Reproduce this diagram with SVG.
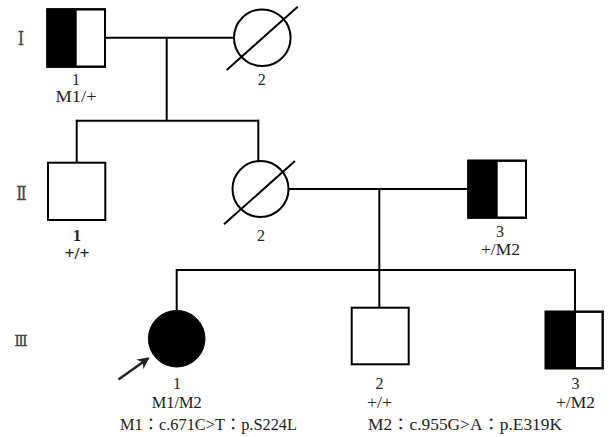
<svg xmlns="http://www.w3.org/2000/svg" width="611" height="437" viewBox="0 0 611 437">
<style>
.ln{stroke:#000;stroke-width:2;fill:none}
.sym{stroke:#000;stroke-width:2;fill:#fff}
.blk{fill:#000;stroke:none}
.t{font-family:"Liberation Serif","Noto Sans CJK JP",serif;font-size:16px;fill:#222;text-anchor:middle}
.g{font-family:"DejaVu Serif","Liberation Serif",serif;fill:#444;stroke:#444;stroke-width:0.4;text-anchor:middle}
</style>
<defs>
<marker id="ah" markerWidth="12" markerHeight="12" refX="10" refY="6" orient="auto" markerUnits="userSpaceOnUse" viewBox="0 0 12 12">
<path d="M0,0 L12,6 L0,12 L3.5,6 Z" fill="#222"/>
</marker>
</defs>
<rect width="611" height="437" fill="#fff"/>
<g id="generations">
<text class="g" x="21" y="45" font-size="19" textLength="6" lengthAdjust="spacingAndGlyphs">Ⅰ</text>
<text class="g" x="21.5" y="200" font-size="19" textLength="10" lengthAdjust="spacingAndGlyphs">Ⅱ</text>
<text class="g" x="21" y="346" font-size="15" textLength="13" lengthAdjust="spacingAndGlyphs">Ⅲ</text>
</g>
<g id="connectors">
<line class="ln" x1="105" y1="37.7" x2="234" y2="37.7"/>
<line class="ln" x1="166.7" y1="37.7" x2="166.7" y2="120.7"/>
<line class="ln" x1="76.7" y1="120.7" x2="258.3" y2="120.7"/>
<line class="ln" x1="76.7" y1="119.7" x2="76.7" y2="162.7"/>
<line class="ln" x1="258.3" y1="119.7" x2="258.3" y2="161"/>
<line class="ln" x1="288.5" y1="189" x2="468.3" y2="189"/>
<line class="ln" x1="379.3" y1="189" x2="379.3" y2="270"/>
<line class="ln" x1="176" y1="270" x2="575.5" y2="270"/>
<line class="ln" x1="176.7" y1="269" x2="176.7" y2="310.5"/>
<line class="ln" x1="379.3" y1="270" x2="379.3" y2="307.7"/>
<line class="ln" x1="575" y1="269" x2="575" y2="311.7"/>
<line stroke="#222" stroke-width="2.5" x1="118.5" y1="379.5" x2="148" y2="358.5" marker-end="url(#ah)"/>
</g>
<g id="I-1">
<rect class="sym" x="47.3" y="9.3" width="57.7" height="57.4"/>
<rect class="blk" x="47.3" y="9.3" width="29.4" height="57.4"/>
<rect class="ln" x="47.3" y="9.3" width="57.7" height="57.4"/>
<text class="t" x="76" y="85">1</text>
<text class="t" x="76" y="101.5" textLength="41" lengthAdjust="spacingAndGlyphs">M1/+</text>
</g>
<g id="I-2">
<circle class="sym" cx="262.3" cy="37.7" r="28.3"/>
<line class="ln" x1="226.7" y1="70" x2="297.7" y2="6.7"/>
<text class="t" x="261.7" y="85">2</text>
</g>
<g id="II-1">
<rect class="sym" x="48" y="162.7" width="57.3" height="57.3"/>
<text class="t" x="77" y="240.5" font-weight="bold">1</text>
<text class="t" x="77" y="259" font-weight="bold" textLength="25" lengthAdjust="spacingAndGlyphs">+/+</text>
</g>
<g id="II-2">
<circle class="sym" cx="260.5" cy="189" r="28"/>
<line class="ln" x1="224" y1="224.3" x2="295" y2="161"/>
<text class="t" x="261" y="240.5">2</text>
</g>
<g id="II-3">
<rect class="sym" x="468.3" y="160.7" width="57.7" height="57"/>
<rect class="blk" x="468.3" y="160.7" width="29.4" height="57"/>
<rect class="ln" x="468.3" y="160.7" width="57.7" height="57"/>
<text class="t" x="500" y="236.5">3</text>
<text class="t" x="500.5" y="255" textLength="39" lengthAdjust="spacingAndGlyphs">+/M2</text>
</g>
<g id="III-1">
<circle cx="176.7" cy="338.7" r="28.3" fill="#000" stroke="#000" stroke-width="1"/>
<text class="t" x="177" y="389">1</text>
<text class="t" x="176.7" y="408" textLength="50" lengthAdjust="spacingAndGlyphs">M1/M2</text>
<text class="t" x="208.5" y="430" textLength="177" lengthAdjust="spacingAndGlyphs">M1：c.671C&gt;T：p.S224L</text>
</g>
<g id="III-2">
<rect class="sym" x="351.7" y="307.7" width="57" height="56.6"/>
<text class="t" x="379.5" y="389">2</text>
<text class="t" x="379.5" y="408" textLength="25" lengthAdjust="spacingAndGlyphs">+/+</text>
<text class="t" x="465" y="430" textLength="194" lengthAdjust="spacingAndGlyphs">M2：c.955G&gt;A：p.E319K</text>
</g>
<g id="III-3">
<rect class="sym" x="545.7" y="311.7" width="57" height="56.6"/>
<rect class="blk" x="545.7" y="311.7" width="30.3" height="56.6"/>
<rect class="ln" x="545.7" y="311.7" width="57" height="56.6"/>
<text class="t" x="575.5" y="389">3</text>
<text class="t" x="575.5" y="408" textLength="39" lengthAdjust="spacingAndGlyphs">+/M2</text>
</g>
</svg>
